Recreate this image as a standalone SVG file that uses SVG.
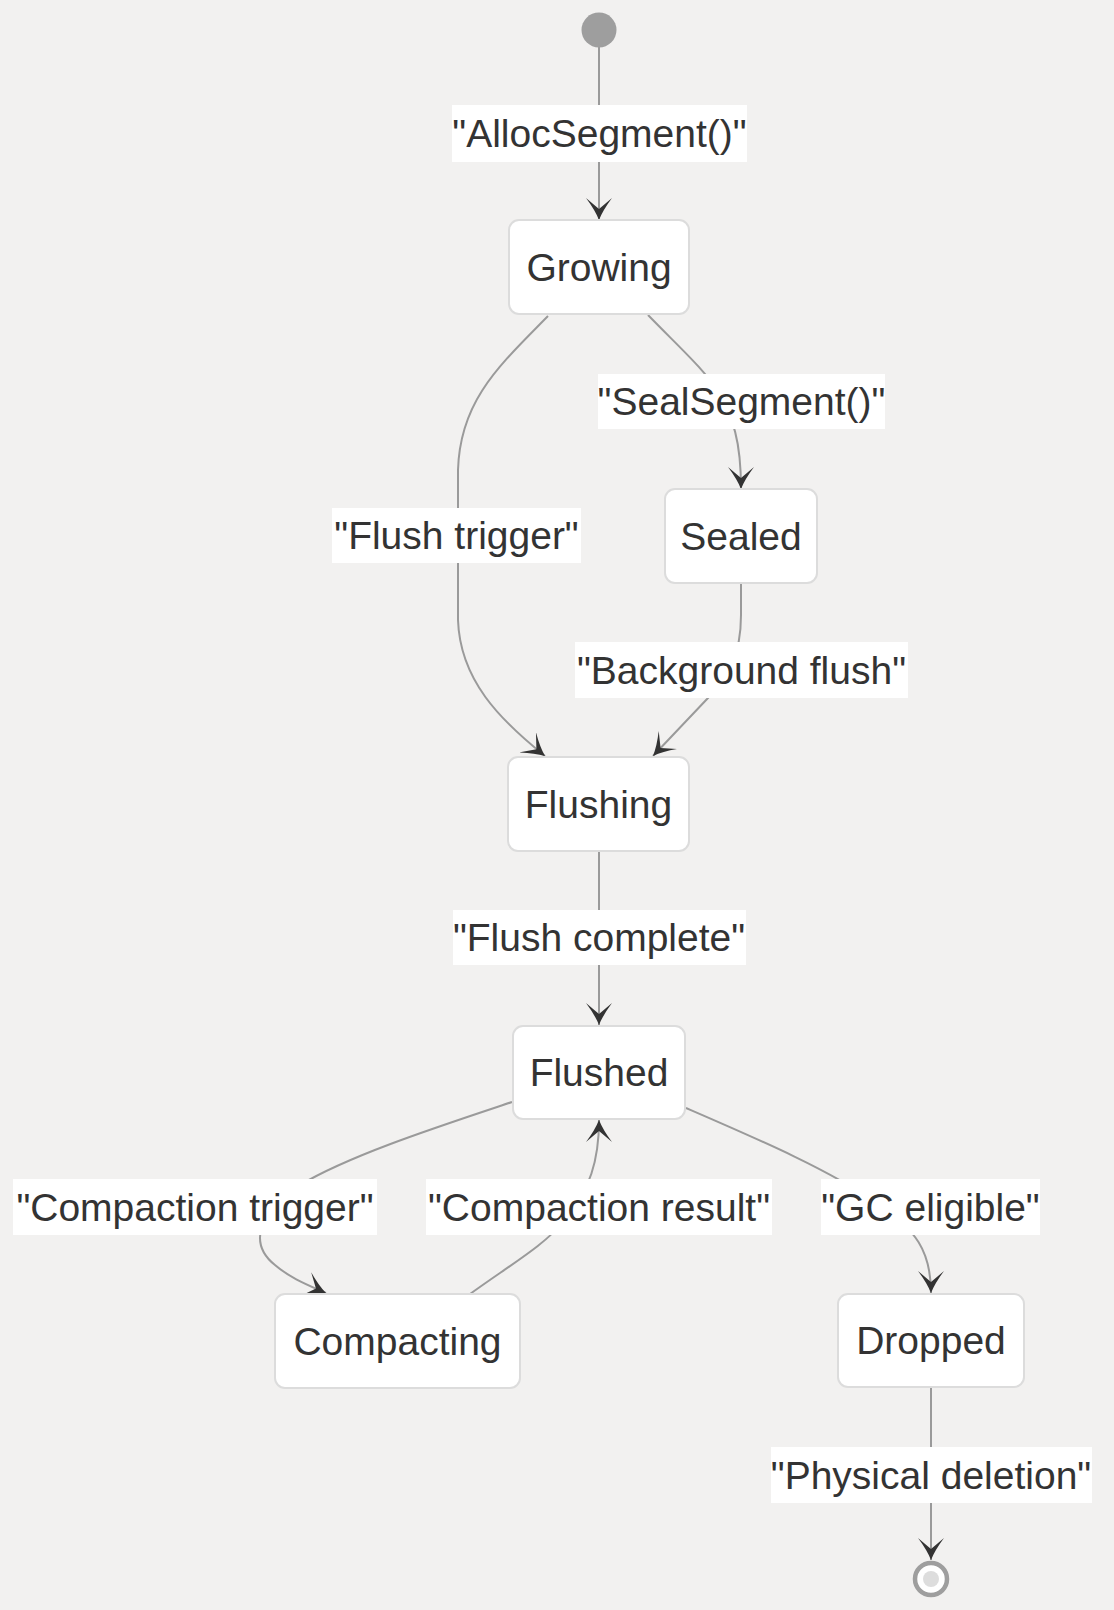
<svg xmlns="http://www.w3.org/2000/svg" width="1114" height="1610" viewBox="0 0 1114 1610">
<defs>
<marker id="arr" viewBox="0 0 22 26" refX="22" refY="13" markerWidth="22" markerHeight="26" markerUnits="userSpaceOnUse" orient="auto">
<path d="M0,0 Q12,9 22,13 Q12,17 0,26 L11,13 Z" fill="#333333"/>
</marker>
</defs>
<style>
.node rect{fill:#ffffff;stroke:#dcdcdc;stroke-width:2}
.lbl rect{fill:#ffffff}
text{font-family:"Liberation Sans",Arial,sans-serif;font-size:39px;fill:#333333;text-anchor:middle}
.edge{fill:none;stroke:#9a9a9a;stroke-width:2}
</style>
<rect x="0" y="0" width="1114" height="1610" fill="#f2f1f0"/>
<g id="connectors">
<path class="edge" d="M599,47 L599,220" marker-end="url(#arr)"/>
<path class="edge" d="M648,315 C680,348 705,370 718,392 C733,418 741,440 741,489" marker-end="url(#arr)"/>
<path class="edge" d="M548,316 C500,365 460,400 458,470 L458,620 C460,680 500,720 545,756" marker-end="url(#arr)"/>
<path class="edge" d="M741,583 L741,615 C741,655 728,678 708,698 L653,756" marker-end="url(#arr)"/>
<path class="edge" d="M599,851 L599,1025" marker-end="url(#arr)"/>
<path class="edge" d="M512,1102 C440,1126 350,1155 300,1185 C255,1215 250,1245 275,1265 C290,1278 308,1285 326,1293" marker-end="url(#arr)"/>
<path class="edge" d="M470,1294 C510,1265 545,1245 565,1220 C590,1190 599,1160 599,1120" marker-end="url(#arr)"/>
<path class="edge" d="M686,1108 C760,1140 830,1170 880,1205 C915,1230 931,1250 931,1293" marker-end="url(#arr)"/>
<path class="edge" d="M931,1387 L931,1560" marker-end="url(#arr)"/>
</g>
<g id="edge-labels">
<g class="lbl"><rect x="452" y="105" width="295" height="57"/><text x="599.5" y="147">"AllocSegment()"</text></g>
<g class="lbl"><rect x="598" y="374" width="287" height="55"/><text x="741.5" y="415">"SealSegment()"</text></g>
<g class="lbl"><rect x="332" y="508" width="249" height="55"/><text x="456.5" y="549">"Flush trigger"</text></g>
<g class="lbl"><rect x="575" y="642" width="333" height="56"/><text x="741.5" y="683.5">"Background flush"</text></g>
<g class="lbl"><rect x="453" y="910" width="293" height="55"/><text x="599" y="951">"Flush complete"</text></g>
<g class="lbl"><rect x="13" y="1179" width="364" height="56"/><text x="195" y="1220.5">"Compaction trigger"</text></g>
<g class="lbl"><rect x="426" y="1179" width="346" height="56"/><text x="599" y="1220.5">"Compaction result"</text></g>
<g class="lbl"><rect x="821" y="1179" width="219" height="56"/><text x="930.5" y="1220.5">"GC eligible"</text></g>
<g class="lbl"><rect x="771" y="1447" width="321" height="56"/><text x="931" y="1488.5">"Physical deletion"</text></g>
</g>
<g id="start"><circle cx="599" cy="30" r="17.5" fill="#9e9e9e"/></g>
<g id="Growing" class="node"><rect x="509" y="220" width="180" height="94" rx="10"/><text x="599" y="281">Growing</text></g>
<g id="Sealed" class="node"><rect x="665" y="489" width="152" height="94" rx="10"/><text x="741" y="550">Sealed</text></g>
<g id="Flushing" class="node"><rect x="508" y="757" width="181" height="94" rx="10"/><text x="598.5" y="818">Flushing</text></g>
<g id="Flushed" class="node"><rect x="513" y="1026" width="172" height="93" rx="10"/><text x="599" y="1086">Flushed</text></g>
<g id="Compacting" class="node"><rect x="275" y="1294" width="245" height="94" rx="10"/><text x="397.5" y="1355">Compacting</text></g>
<g id="Dropped" class="node"><rect x="838" y="1294" width="186" height="93" rx="10"/><text x="931" y="1354">Dropped</text></g>
<g id="end"><circle cx="931" cy="1579" r="16" fill="#ffffff" stroke="#9e9e9e" stroke-width="4.5"/><circle cx="931" cy="1579" r="8" fill="#dddddd"/></g>
</svg>
